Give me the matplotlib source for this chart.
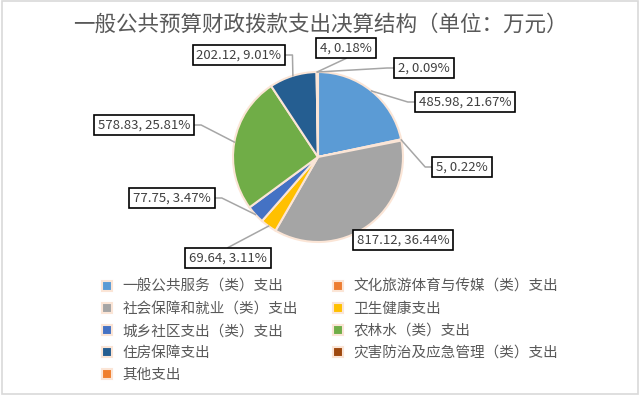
import matplotlib
matplotlib.use("Agg")
import matplotlib.pyplot as plt
from matplotlib.lines import Line2D
from matplotlib.patches import Rectangle
import numpy as np

plt.rcParams['font.family'] = ['Noto Sans CJK SC', 'DejaVu Sans']

# 数据
title = '一般公共预算财政拨款支出决算结构（单位：万元）'
categories = ['一般公共服务（类）支出', '文化旅游体育与传媒（类）支出', '社会保障和就业（类）支出',
              '卫生健康支出', '城乡社区支出（类）支出', '农林水（类）支出',
              '住房保障支出', '灾害防治及应急管理（类）支出', '其他支出']
values = [485.98, 5, 817.12, 69.64, 77.75, 578.83, 202.12, 4, 2]
percents = ['21.67%', '0.22%', '36.44%', '3.11%', '3.47%', '25.81%', '9.01%', '0.18%', '0.09%']
value_labels = ['485.98', '5', '817.12', '69.64', '77.75', '578.83', '202.12', '4', '2']
colors = ['#5B9BD5', '#ED7D31', '#A5A5A5', '#FFC000', '#4472C4', '#70AD47',
          '#255E91', '#9E480E', '#F07F2E']

# 标签框位置 (像素, 左上为原点) 与引线连接方向
label_pos = [(465, 102), (462, 167), (403, 240), (228, 258), (172, 198),
             (144, 125), (239, 55), (346, 48), (424, 68)]
label_side = ['left', 'left', 'none', 'top', 'right', 'right', 'right', 'bottom', 'left']

W, H = 640, 397
cx, cy, r = 318, 157, 85

fig = plt.figure(figsize=(W / 100, H / 100), dpi=100)
fig.patch.set_facecolor('white')
fig.add_artist(Rectangle((0.003, 0.008), 0.994, 0.989, transform=fig.transFigure,
                         fill=False, ec='#D9D9D9', lw=1.2))

ax = fig.add_axes([(cx - r) / W, (H - cy - r) / H, 2 * r / W, 2 * r / H])
wedges, _ = ax.pie(values, colors=colors, startangle=90, counterclock=False, radius=1,
                   wedgeprops=dict(edgecolor='#FBE5D6', linewidth=1.5))
ax.set_xlim(-1, 1)
ax.set_ylim(-1, 1)
ax.axis('off')

fig.text(0.5, 1 - 25 / H, title, ha='center', va='center', fontsize=15.5,
         fontweight='light', color='#595959')

# 数据标签
total = sum(values)
texts = []
for i, (lx, ly) in enumerate(label_pos):
    t = fig.text(lx / W, 1 - ly / H, f'{value_labels[i]}, {percents[i]}', ha='center', va='center',
                 fontsize=9.5, color='#404040', zorder=5,
                 bbox=dict(boxstyle='square,pad=0.3', fc='white', ec='black', lw=1.2))
    texts.append(t)

fig.canvas.draw()
cum = 0
for i, t in enumerate(texts):
    mid = 90 - 360 * (cum + values[i] / 2) / total
    cum += values[i]
    side = label_side[i]
    if side == 'none':
        continue
    ex = cx + r * np.cos(np.radians(mid))
    ey = (H - cy) + r * np.sin(np.radians(mid))
    bb = t.get_bbox_patch().get_window_extent()
    my = (bb.y0 + bb.y1) / 2
    mx = (bb.x0 + bb.x1) / 2
    if side == 'left':
        xs, ys = [ex, bb.x0 - 7, bb.x0], [ey, my, my]
    elif side == 'right':
        xs, ys = [ex, bb.x1 + 7, bb.x1], [ey, my, my]
    elif side == 'top':
        xs, ys = [ex, mx], [ey, bb.y1]
    else:
        xs, ys = [ex, mx], [ey, bb.y0]
    fig.add_artist(Line2D([x / W for x in xs], [y / H for y in ys], transform=fig.transFigure,
                          color='#A6A6A6', lw=1.1, zorder=4))

# 图例 (按行排列)
order = [0, 2, 4, 6, 8, 1, 3, 5, 7]
fig.legend([wedges[i] for i in order], [categories[i] for i in order], ncol=2,
           loc='upper left', bbox_to_anchor=(102 / W, 1 - 280 / H), frameon=False,
           fontsize=10.5, labelcolor='#595959', handlelength=0.7, handleheight=0.7,
           handletextpad=0.7, columnspacing=2.4, labelspacing=0.55, borderpad=0, borderaxespad=0)

fig.savefig('out.png', dpi=100)
